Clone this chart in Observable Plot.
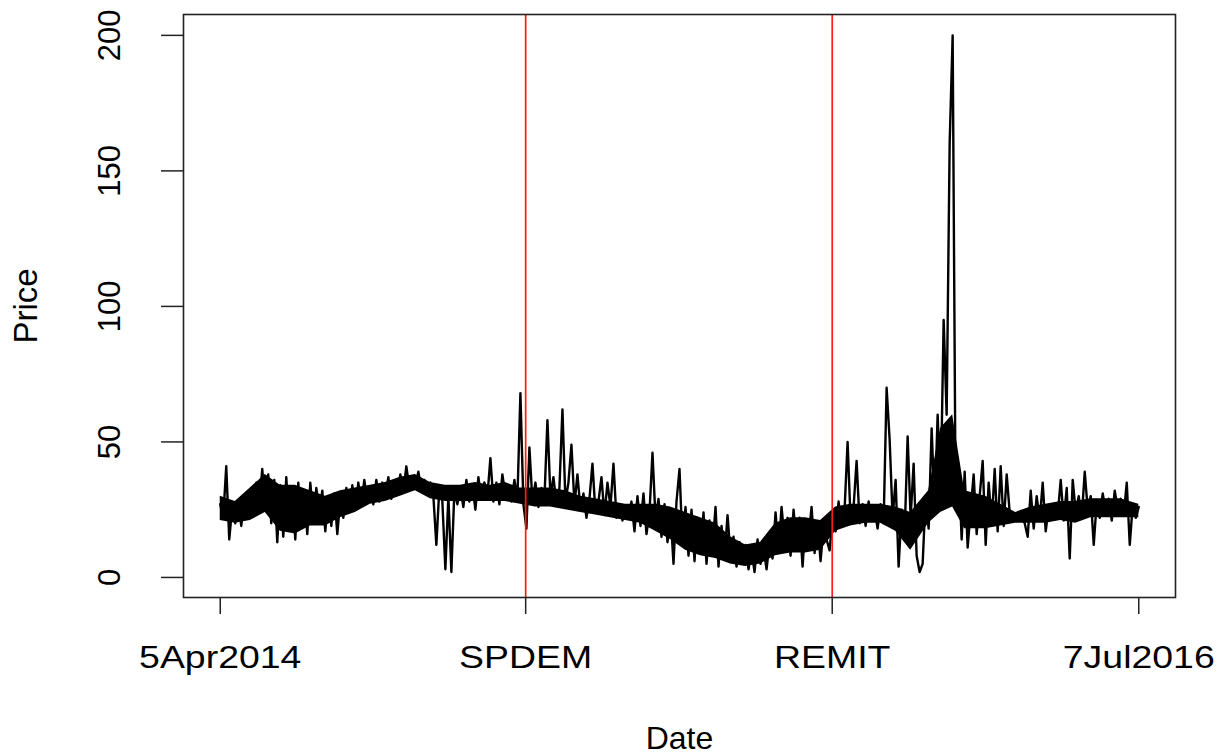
<!DOCTYPE html>
<html>
<head>
<meta charset="utf-8">
<script src="https://cdn.jsdelivr.net/npm/d3@7"></script>
<script src="https://cdn.jsdelivr.net/npm/@observablehq/plot@0.6"></script>
<style>
  html, body { margin: 0; padding: 0; background: #ffffff; }
  #chart svg { display: block; }
</style>
</head>
<body>
<div id="chart"></div>
<script>
// ---- Data ----
const startDate = "2014-04-05";
const endDate = "2016-07-07";
const eventNames = ["SPDEM", "REMIT"];
const eventDates = ["2015-01-04", "2015-10-06"];
const tickLabels = ["5Apr2014", "SPDEM", "REMIT", "7Jul2016"];
const yTicks = [0, 50, 100, 150, 200];
// sampled price path (evenly spaced in time)
const prices = [
  27,22,41,14,26,20,28,19,29,22,
  30,24,35,27,40,25,38,20,36,13,
  34,15,37,18,33,14,35,19,31,16,
  35,22,33,24,32,17,30,19,31,16,
  29,22,33,24,34,25,35,27,36,28,
  33,27,36,28,35,30,37,29,34,31,
  38,32,41,33,37,34,39,32,36,33,
  35,30,12,33,28,3,30,2,32,27,
  33,26,36,28,34,25,37,29,35,30,
  44,28,35,27,38,30,34,28,36,29,
  68,27,18,48,28,35,26,33,29,58,
  30,37,27,33,62,28,35,49,27,38,
  25,31,22,29,42,24,28,37,23,35,
  26,42,22,27,21,26,23,28,17,30,
  19,31,16,24,46,22,29,15,27,13,
  24,5,28,40,12,26,8,25,6,22,
  9,24,5,21,11,26,4,19,7,23,
  8,15,4,13,6,12,3,10,2,14,
  5,11,3,13,7,24,10,26,14,22,
  8,25,12,22,4,21,15,26,9,20,
  6,19,14,10,22,17,28,19,25,50,
  21,26,43,20,27,19,28,22,25,18,
  27,20,70,51,22,36,4,25,16,52,
  22,42,8,2,5,30,18,55,25,60,
  30,95,60,160,200,25,42,14,39,11,
  25,38,16,30,43,12,35,20,40,17,
  41,19,38,24,23,22,21,22,20,15,
  32,18,30,21,35,17,26,22,27,23,
  36,21,33,7,36,24,30,22,39,25,
  30,12,28,22,31,24,29,21,32,25,
  29,23,35,12,27,22,26
];
// dense intraday range (the solid core of the trace), at sample positions
const coreIdx  = [0,5,10,15,20,25,30,35,40,45,50,55,60,65,70,75,80,85,90,95,100,105,110,115,120,125,130,135,140,145,150,155,160,165,170,175,180,185,190,195,200,205,210,215,220,225,230,236,240,244,248,255,260,265,270,275,280,285,290,295,300,306];
const coreLow  = [21,20,21,24,17,16,19,19,22,24,27,28,30,32,29,28,28,28,28,28,27,26,26,25,24,23,22,21,20,17,14,10,8,7,5,4,5,8,9,9,10,17,19,20,20,17,10,20,24,26,18,18,19,20,20,20,21,20,22,22,22,22];
const coreHigh = [30,28,33,38,34,34,32,30,32,33,34,35,37,38,35,34,34,35,34,35,33,33,33,32,30,29,28,27,27,27,26,24,22,20,15,12,13,20,22,22,21,26,27,27,27,26,24,32,55,60,32,30,27,24,26,27,28,28,29,29,29,27];

// ---- Build tables ----
const t0 = new Date(startDate + "T00:00:00Z");
const t1 = new Date(endDate + "T00:00:00Z");
const span = t1 - t0;
const step = span / (prices.length - 1);
const series = prices.map((p, i) => ({date: new Date(+t0 + i * step), price: p}));
const core = coreIdx.map((k, i) => ({date: series[k].date, low: coreLow[i], high: coreHigh[i]}));
const events = eventDates.map((d, i) => ({date: new Date(d + "T00:00:00Z"), name: eventNames[i]}));
const tickDates = [t0, ...events.map(e => e.date), t1];
const labelMap = new Map(tickDates.map((d, i) => [+d, tickLabels[i]]));

const font = "'Liberation Sans', Arial, Helvetica, sans-serif";

const svg = Plot.plot({
  width: 1220,
  height: 755,
  marginLeft: 183,
  marginRight: 45,
  marginTop: 14,
  marginBottom: 158,
  style: {fontFamily: font, background: "white", color: "black", overflow: "visible"},
  x: {type: "utc", domain: [new Date(+t0 - 0.04 * span), new Date(+t1 + 0.04 * span)], axis: null},
  y: {domain: [-7.4, 207.7], axis: null},
  marks: [
    Plot.areaY(core, {x: "date", y1: "low", y2: "high", fill: "black"}),
    Plot.line(series, {x: "date", y: "price", stroke: "black", strokeWidth: 2.4}),
    Plot.ruleX(events, {x: "date", stroke: "#ff1a1a", strokeWidth: 1.7}),
    Plot.frame({stroke: "#222", strokeWidth: 1.6}),
    Plot.axisX({
      ticks: tickDates, tickSize: 17, tickPadding: 31, label: null,
      tickFormat: d => labelMap.get(+d), fontSize: 32, stroke: "#222", strokeWidth: 1.5
    }),
    Plot.axisY({
      ticks: yTicks, tickSize: 22, label: null,
      tickFormat: () => "", stroke: "#222", strokeWidth: 1.5
    }),
    Plot.text(yTicks, {y: d => d, text: d => String(d), frameAnchor: "left", dx: -73, rotate: -90,
      textAnchor: "middle", lineAnchor: "middle", fontSize: 31, fill: "black"}),
    Plot.text(["Price"], {frameAnchor: "left", dx: -157, rotate: -90,
      textAnchor: "middle", lineAnchor: "middle", fontSize: 33, fill: "black"}),
    Plot.text(["Date"], {frameAnchor: "bottom", dy: 141, textAnchor: "middle", lineAnchor: "middle",
      fontSize: 32, fill: "black", ariaLabel: "xlab"})
  ]
});

// The reference text is slightly stretched horizontally
d3.select(svg)
  .selectAll('g[aria-label="x-axis tick label"] text, g[aria-label="xlab"] text')
  .each(function() {
    const t = this.getAttribute("transform");
    if (t) this.setAttribute("transform", t + " scale(1.17,1)");
  });

document.getElementById("chart").appendChild(svg);
</script>
</body>
</html>
